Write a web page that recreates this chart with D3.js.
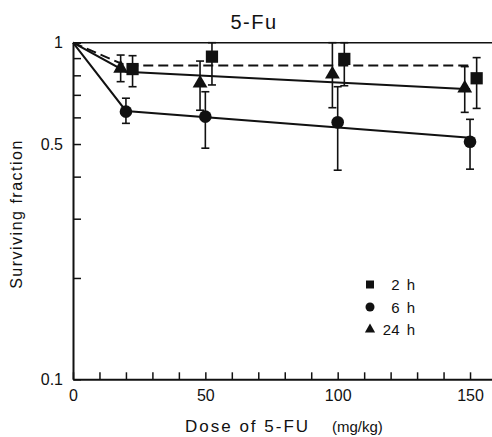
<!DOCTYPE html>
<html>
<head>
<meta charset="utf-8">
<script src="https://cdnjs.cloudflare.com/ajax/libs/d3/7.8.5/d3.min.js"></script>
<style>
  body { margin: 0; background: #fff; }
  svg text { font-family: "Liberation Sans", Arial, sans-serif; fill: #111; }
</style>
</head>
<body>
<div id="chart"></div>
<script>
// dose values (mg/kg) and the three time series
const doses = [20, 50, 100, 150];
const seriesNames = ["2 h", "6 h", "24 h"];

const surv2h = [0.835, 0.909, 0.895, 0.784];
const low2h = [0.740, 0.749, 0.745, 0.638];
const high2h = [0.915, 1.0, 1.0, 0.903];

const surv6h = [0.624, 0.603, 0.580, 0.508];
const low6h = [0.576, 0.486, 0.418, 0.421];
const high6h = [0.684, 0.715, 0.740, 0.592];

const surv24h = [0.839, 0.758, 0.806, 0.732];
const low24h = [0.766, 0.630, 0.641, 0.621];
const high24h = [0.919, 0.882, 1.0, 0.849];

// fitted curves
const fitDoses = [0, 20, 150];
const fit2h = [1, 0.855, 0.855];
const fit6h = [1, 0.627, 0.522];
const fit24h = [1, 0.82, 0.727];

const xTickValues = d3.range(0, 160, 10);
const xTickLabels = [0, 50, 100, 150];
const yTickValues = [0.1, 0.2, 0.3, 0.4, 0.5, 0.6, 0.7, 0.8, 0.9, 1];
const yTickLabels = [0.1, 0.5, 1];

const width = 492, height = 437;
const svg = d3.select("#chart").append("svg")
  .attr("width", width).attr("height", height);

const x = d3.scaleLinear().domain([0, 158.3]).range([73, 492]);
const y = d3.scaleLog().domain([0.1, 1]).range([379.3, 42.7]);

// top frame line at y = 1
svg.append("line")
  .attr("x1", x(0)).attr("x2", width)
  .attr("y1", y(1)).attr("y2", y(1))
  .attr("stroke", "#111").attr("stroke-width", 1.6);

// axes
const xAxis = svg.append("g")
  .attr("transform", `translate(0, ${y(0.1)})`)
  .call(d3.axisBottom(x)
    .tickValues(xTickValues)
    .tickSize(-7)
    .tickSizeOuter(0)
    .tickPadding(10)
    .tickFormat(d => xTickLabels.includes(d) ? d : ""));
xAxis.select(".domain").attr("stroke", "#111").attr("stroke-width", 2);
xAxis.selectAll(".tick line").attr("stroke", "#111").attr("stroke-width", 1.5);
xAxis.selectAll("text").style("font-size", "16px").attr("fill", "#111");

const yAxis = svg.append("g")
  .attr("transform", `translate(${x(0)}, 0)`)
  .call(d3.axisLeft(y)
    .tickValues(yTickValues)
    .tickSize(-8)
    .tickSizeOuter(0)
    .tickPadding(10)
    .tickFormat(d => yTickLabels.includes(d) ? d : ""));
yAxis.select(".domain").attr("stroke", "#111").attr("stroke-width", 2);
yAxis.selectAll(".tick line").attr("stroke", "#111").attr("stroke-width", 1.5);
yAxis.selectAll("text").style("font-size", "16px").attr("fill", "#111");

// fitted lines
const line = d3.line().x(d => x(d[0])).y(d => y(d[1]));
const fits = [
  { vals: fit2h, dash: "10,5" },
  { vals: fit6h, dash: null },
  { vals: fit24h, dash: null }
];
fits.forEach(f => {
  svg.append("path")
    .datum(fitDoses.map((d, i) => [d, f.vals[i]]))
    .attr("d", line)
    .attr("fill", "none")
    .attr("stroke", "#111")
    .attr("stroke-width", 2)
    .attr("stroke-dasharray", f.dash);
});

// points with error bars; small dose shift keeps the markers apart
const series = [
  { name: seriesNames[0], shape: d3.symbolSquare, size: 150, shift: 2.5, v: surv2h, lo: low2h, hi: high2h },
  { name: seriesNames[1], shape: d3.symbolCircle, size: 125, shift: 0, v: surv6h, lo: low6h, hi: high6h },
  { name: seriesNames[2], shape: d3.symbolTriangle, size: 95, shift: -2, v: surv24h, lo: low24h, hi: high24h }
];

series.forEach(s => {
  const pts = doses.map((d, i) => ({ dose: d + s.shift, v: s.v[i], lo: s.lo[i], hi: s.hi[i] }));
  const g = svg.append("g");
  const bars = g.selectAll(".err").data(pts).enter().append("g").attr("class", "err")
    .attr("stroke", "#111").attr("stroke-width", 1.6);
  bars.append("line")
    .attr("x1", d => x(d.dose)).attr("x2", d => x(d.dose))
    .attr("y1", d => y(d.lo)).attr("y2", d => y(d.hi));
  bars.append("line")
    .attr("x1", d => x(d.dose) - 4).attr("x2", d => x(d.dose) + 4)
    .attr("y1", d => y(d.lo)).attr("y2", d => y(d.lo));
  bars.append("line")
    .attr("x1", d => x(d.dose) - 4).attr("x2", d => x(d.dose) + 4)
    .attr("y1", d => y(d.hi)).attr("y2", d => y(d.hi));
  g.selectAll(".pt").data(pts).enter().append("path")
    .attr("class", "pt")
    .attr("transform", d => `translate(${x(d.dose)}, ${y(d.v)})`)
    .attr("d", d3.symbol().type(s.shape).size(s.size))
    .attr("fill", "#111");
});

// legend
const legend = svg.append("g");
const legendSizes = [64, 64, 45];
series.forEach((s, i) => {
  const ly = 284.5 + i * 22.5;
  legend.append("path")
    .attr("transform", `translate(370, ${ly})`)
    .attr("d", d3.symbol().type(s.shape).size(legendSizes[i]))
    .attr("fill", "#111");
  legend.append("text")
    .attr("x", 415)
    .attr("y", ly + 5.5)
    .attr("text-anchor", "end")
    .style("font-size", "15px")
    .style("word-spacing", "3px")
    .text(s.name);
});

// title
svg.append("text")
  .attr("x", 254).attr("y", 29)
  .attr("text-anchor", "middle")
  .style("font-size", "20px")
  .style("letter-spacing", "1.5px")
  .text("5-Fu");

// axis titles
svg.append("text")
  .attr("x", 185).attr("y", 432)
  .style("font-size", "17px")
  .style("letter-spacing", "2px")
  .text("Dose of 5-FU");
svg.append("text")
  .attr("x", 332).attr("y", 432)
  .style("font-size", "15px")
  .text("(mg/kg)");

svg.append("text")
  .attr("transform", "translate(22, 214) rotate(-90)")
  .attr("text-anchor", "middle")
  .style("font-size", "16px")
  .style("letter-spacing", "1.5px")
  .text("Surviving fraction");
</script>
</body>
</html>
